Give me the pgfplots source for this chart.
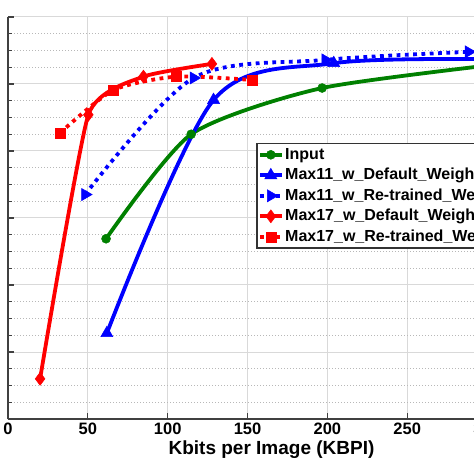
\documentclass[border=0pt]{standalone}
\usepackage{fontspec}
\setmainfont{Liberation Sans}
\usepackage{pgfplots}
\pgfplotsset{compat=1.18}
\definecolor{mgreen}{rgb}{0,0.5,0}
\begin{document}
\begin{tikzpicture}
\begin{axis}[
 scale only axis, width=527pt, height=402pt,
 xmin=0, xmax=330, ymin=0, ymax=6,
 xtick={0,50,...,300}, ytick={0,1,...,6}, yticklabels={},
 minor y tick num=3,
 axis x line*=bottom, axis y line*=left,
 axis line style={line width=1.5pt, color=black!75, -},
 xmajorgrids, ymajorgrids, yminorgrids,
 major grid style={line width=1pt, color=black!15},
 minor grid style={line width=1pt, color=black!28, dotted},
 tick style={line width=1.2pt, color=black!75},
 major tick length=6pt, minor tick length=4pt,
 tick align=inside,
 /pgf/number format/assume math mode=true,
 ticklabel style={font=\fontsize{16.5}{18}\selectfont\bfseries},
 xlabel={Kbits per Image (KBPI)},
 xlabel style={font=\fontsize{19}{22}\selectfont\bfseries},
 legend style={at={(axis cs:155.5,4.12)}, anchor=north west, draw=black!80, line width=1.2pt, fill=white,
   font=\fontsize{16}{18}\selectfont\bfseries, inner xsep=1pt, inner ysep=2pt, row sep=2pt,
   nodes={inner sep=1.5pt, text height=12pt, text depth=3.5pt}},
 legend cell align=left,
 legend image code/.code={\draw[mark repeat=2,mark phase=2] plot coordinates {(0pt,0pt) (11pt,0pt) (22pt,0pt)};},
 clip=false,
]
\addplot[mgreen, line width=3.8pt, smooth, tension=0.4, mark=*, mark size=4.5pt, mark options={solid, line width=0.5pt}]
  coordinates {(61.4,2.69) (114.7,4.25) (196.7,4.94) (320,5.33)};
\addlegendentry{Input}
\addplot[blue, line width=3.8pt, smooth, mark=triangle*, mark size=7pt, mark options={solid, line width=0.5pt}]
  coordinates {(61.9,1.28) (128.7,4.76) (204,5.31) (300,5.37)};
\addlegendentry{Max11\_w\_Default\_Weights}
\addplot[blue, line width=3.8pt, dash pattern=on 3.8pt off 4.5pt, smooth, mark=triangle*, mark size=7pt, mark options={solid, rotate=-90, line width=0.5pt}]
  coordinates {(48.3,3.35) (116.2,5.09) (198.7,5.36) (288.4,5.48)};
\addlegendentry{Max11\_w\_Re-trained\_Weights}
\addplot[red, line width=3.8pt, smooth, tension=0.3, mark=diamond*, mark size=6.5pt, mark options={solid, line width=0.5pt}]
  coordinates {(20.1,0.60) (50.3,4.54) (84.8,5.11) (127.7,5.30)};
\addlegendentry{Max17\_w\_Default\_Weights}
\addplot[red, line width=3.8pt, dash pattern=on 3.8pt off 4.5pt, smooth, tension=0.4, mark=square*, mark size=5pt, mark options={solid, line width=0.5pt}]
  coordinates {(32.6,4.27) (66.0,4.91) (105.3,5.11) (152.8,5.06)};
\addlegendentry{Max17\_w\_Re-trained\_Weights}
\coordinate (bl) at (rel axis cs:0,0);
\end{axis}
\pgfresetboundingbox
\path[use as bounding box] ([shift={(-8pt,-55pt)}]bl) rectangle ([shift={(466pt,419pt)}]bl);
\end{tikzpicture}
\end{document}
